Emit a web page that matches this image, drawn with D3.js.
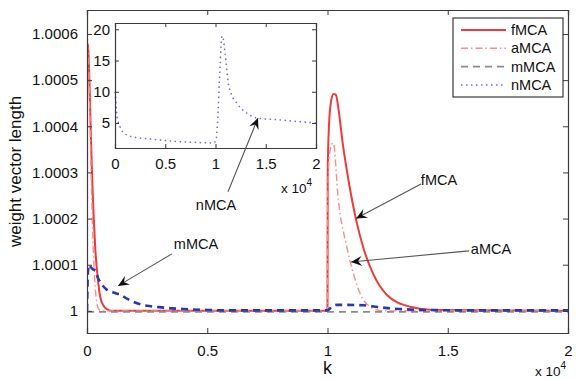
<!DOCTYPE html>
<html>
<head>
<meta charset="utf-8">
<script src="https://cdn.jsdelivr.net/npm/d3@7"></script>
<style>
  html, body { margin: 0; padding: 0; background: #fff; }
  svg { display: block; font-family: "Liberation Sans", Arial, Helvetica, sans-serif; }
</style>
</head>
<body>
<svg id="chart" width="576" height="379"></svg>
<script>
// ---------------- DATA ----------------
const xTicks = [0, 5000, 10000, 15000, 20000];
const xTickLabels = ["0", "0.5", "1", "1.5", "2"];
const yTicks = [1, 1.0001, 1.0002, 1.0003, 1.0004, 1.0005, 1.0006];
const yTickLabels = ["1", "1.0001", "1.0002", "1.0003", "1.0004", "1.0005", "1.0006"];
const insetYTicks = [5, 10, 15, 20];
const insetYTickLabels = ["5", "10", "15", "20"];
const seriesNames = ["fMCA", "aMCA", "mMCA", "nMCA"];

// fMCA (red solid)
const fMCA_k = [0, 40, 100, 160, 220, 280, 350, 450, 550, 700, 850, 1000, 10000, 10010, 10060, 10150, 10250, 10350, 10450, 10630, 10900, 11200, 11500, 11900, 12460, 13430, 14400, 20000];
const fMCA_v = [1.00058, 1.000575, 1.0005, 1.00038, 1.00028, 1.0002, 1.00013, 1.00007, 1.00003, 1.00001, 1.000003, 1, 1, 1.0003, 1.0004, 1.000455, 1.00047, 1.000468, 1.00044, 1.000364, 1.000275, 1.000195, 1.000135, 1.00008, 1.000035, 1.000009, 1.000002, 1];

// aMCA (light red dash-dot)
const aMCA_k = [0, 60, 120, 180, 250, 320, 400, 500, 600, 10000, 10010, 10080, 10240, 10450, 10800, 11070, 11350, 11770, 12300, 20000];
const aMCA_v = [1.00058, 1.00055, 1.00042, 1.00028, 1.00015, 1.00007, 1.00002, 1.000003, 1, 1, 1.00025, 1.00034, 1.000364, 1.000241, 1.000139, 1.000082, 1.000038, 1.000009, 1, 1];

// mMCA (grey dashed, legend style)
const mMCA_k = [0, 20000];
const mMCA_v = [1, 1];

// blue dashed curve in main axes (labelled mMCA by arrow)
const mMCAblue_k = [0, 40, 80, 150, 250, 350, 450, 550, 650, 800, 950, 1100, 1250, 1400, 1550, 1750, 2000, 2300, 2650, 3000, 3400, 4000, 5000, 6000, 8000, 10000, 10200, 10400, 10800, 11500, 12000, 12500, 13000, 14000, 16000, 20000];
const mMCAblue_v = [1, 1.000085, 1.0001, 1.000095, 1.00009, 1.000088, 1.000072, 1.000062, 1.000055, 1.000047, 1.000042, 1.00004, 1.000037, 1.000036, 1.00003, 1.000024, 1.000018, 1.000013, 1.00001, 1.000008, 1.000006, 1.000004, 1.000002, 1.000001, 1.000001, 1.000001, 1.00001, 1.000013, 1.000013, 1.000012, 1.000009, 1.000006, 1.000004, 1.000002, 1.000001, 1.000001];

// nMCA (blue dotted, inset)
const nMCA_k = [0, 60, 200, 500, 800, 1160, 2000, 3150, 5000, 6470, 8000, 9750, 10050, 10200, 10450, 10650, 10720, 10950, 11270, 11600, 12100, 13100, 14100, 16400, 18400, 20000];
const nMCA_v = [10, 9, 6, 4.4, 3.5, 3.1, 2.7, 2.5, 2.2, 2.0, 1.9, 1.8, 2.2, 5, 14.1, 18.9, 18.8, 16.2, 11.4, 9.5, 8.2, 6.6, 5.8, 5.5, 5.2, 5.0];

// Annotations (data coordinates): text position, arrow start, arrow tip
const annotations = [
  { text: "nMCA", tx: 5364, ty: 1.00023, sx: 5863, sy: 1.000258, tipInset: true, ex: 14229, ey: 5.8 },
  { text: "mMCA", tx: 4532, ty: 1.000145, sx: 3534, sy: 1.0001235, tipInset: false, ex: 1289, ey: 1.0000541 },
  { text: "fMCA", tx: 14636, ty: 1.000284, sx: 13888, sy: 1.000275, tipInset: false, ex: 11185, ey: 1.0002 },
  { text: "aMCA", tx: 16798, ty: 1.000134, sx: 15884, sy: 1.00013, tipInset: false, ex: 10977, ey: 1.000106 }
];

// ---------------- LAYOUT ----------------
const svg = d3.select("#chart");
const M = { left: 87, right: 568, top: 10, bottom: 333 };
const I = { left: 115, right: 316, top: 23, bottom: 148 };

const x = d3.scaleLinear().domain([0, 20000]).range([M.left, M.right]);
const y = d3.scaleLinear().domain([0.999952, 1.000652]).range([M.bottom, M.top]);
const xi = d3.scaleLinear().domain([0, 20000]).range([I.left, I.right]);
const yi = d3.scaleLinear().domain([1, 21]).range([I.bottom, I.top]);

const axisColor = "#3a3a3a";
const colF = "#f03a3a", colA = "#ff8a8a", colM = "#8c8c8c", colBlue = "#2e35b0", colN = "#6b6be0";

svg.append("defs").append("clipPath").attr("id", "mainClip")
  .append("rect").attr("x", M.left).attr("y", M.top).attr("width", M.right - M.left).attr("height", M.bottom - M.top);

svg.append("rect").attr("x", M.left).attr("y", M.top).attr("width", M.right - M.left).attr("height", M.bottom - M.top)
  .attr("fill", "#fff").attr("stroke", "none");

const zip = (ks, vs) => ks.map((k, i) => [k, vs[i]]);
const line = d3.line().x(d => x(d[0])).y(d => y(d[1])).curve(d3.curveMonotoneX);
const plot = svg.append("g").attr("clip-path", "url(#mainClip)");

plot.append("path").datum(zip(fMCA_k, fMCA_v)).attr("d", line)
  .attr("fill", "none").attr("stroke", colF).attr("stroke-width", 2);
plot.append("path").datum(zip(aMCA_k, aMCA_v)).attr("d", line)
  .attr("fill", "none").attr("stroke", colA).attr("stroke-width", 1.4).attr("stroke-dasharray", "7,3,1.5,3");
plot.append("path").datum(zip(mMCA_k, mMCA_v)).attr("d", line)
  .attr("fill", "none").attr("stroke", colM).attr("stroke-width", 1.6).attr("stroke-dasharray", "7,5")
  .attr("transform", "translate(0,1)");
plot.append("path").datum(zip(mMCAblue_k, mMCAblue_v)).attr("d", line)
  .attr("fill", "none").attr("stroke", colBlue).attr("stroke-width", 2.6).attr("stroke-dasharray", "7,5");

const xAxB = d3.axisBottom(x).tickValues(xTicks).tickSize(-5).tickPadding(12).tickFormat((d, i) => xTickLabels[i]);
const xAxT = d3.axisTop(x).tickValues(xTicks).tickSize(-5).tickFormat("");
const yAxL = d3.axisLeft(y).tickValues(yTicks).tickSize(-5).tickPadding(9).tickFormat((d, i) => yTickLabels[i]);
const yAxR = d3.axisRight(y).tickValues(yTicks).tickSize(-5).tickFormat("");

function styleAxis(g, fs) {
  g.select(".domain").attr("stroke", axisColor).attr("stroke-width", 1.2);
  g.selectAll(".tick line").attr("stroke", axisColor);
  g.selectAll(".tick text").attr("fill", "#111").style("font-size", fs + "px")
    .style("font-family", '"Liberation Sans", Arial, Helvetica, sans-serif');
}
styleAxis(svg.append("g").attr("transform", `translate(0,${M.bottom})`).call(xAxB), 15);
styleAxis(svg.append("g").attr("transform", `translate(0,${M.top})`).call(xAxT), 15);
styleAxis(svg.append("g").attr("transform", `translate(${M.left},0)`).call(yAxL), 15);
styleAxis(svg.append("g").attr("transform", `translate(${M.right},0)`).call(yAxR), 15);

svg.append("text").attr("x", x(10000)).attr("y", 374).attr("text-anchor", "middle")
  .style("font-size", "18px").attr("fill", "#111").text("k");
svg.append("text").attr("transform", `translate(21,${(M.top + M.bottom) / 2}) rotate(-90)`)
  .attr("text-anchor", "middle").style("font-size", "17px").attr("fill", "#111").text("weight vector length");
const mx = svg.append("text").attr("x", 535).attr("y", 376).style("font-size", "13.5px").attr("fill", "#111");
mx.append("tspan").text("x 10");
mx.append("tspan").attr("dy", -7).style("font-size", "10px").text("4");

// ---------------- INSET ----------------
svg.append("rect").attr("x", I.left).attr("y", I.top).attr("width", I.right - I.left).attr("height", I.bottom - I.top)
  .attr("fill", "#fff").attr("stroke", "none");
const iline = d3.line().x(d => xi(d[0])).y(d => yi(d[1])).curve(d3.curveMonotoneX);
svg.append("path").datum(zip(nMCA_k, nMCA_v)).attr("d", iline)
  .attr("fill", "none").attr("stroke", colN).attr("stroke-width", 1.5).attr("stroke-dasharray", "1.5,3.5");

const ixB = d3.axisBottom(xi).tickValues(xTicks).tickSize(-4).tickPadding(10).tickFormat((d, i) => xTickLabels[i]);
const ixT = d3.axisTop(xi).tickValues(xTicks).tickSize(-4).tickFormat("");
const iyL = d3.axisLeft(yi).tickValues(insetYTicks).tickSize(-4).tickPadding(5).tickFormat((d, i) => insetYTickLabels[i]);
const iyR = d3.axisRight(yi).tickValues(insetYTicks).tickSize(-4).tickFormat("");
styleAxis(svg.append("g").attr("transform", `translate(0,${I.bottom})`).call(ixB), 15);
styleAxis(svg.append("g").attr("transform", `translate(0,${I.top})`).call(ixT), 15);
styleAxis(svg.append("g").attr("transform", `translate(${I.left},0)`).call(iyL), 15);
styleAxis(svg.append("g").attr("transform", `translate(${I.right},0)`).call(iyR), 15);
const ix = svg.append("text").attr("x", 281).attr("y", 193).style("font-size", "13.5px").attr("fill", "#111");
ix.append("tspan").text("x 10");
ix.append("tspan").attr("dy", -7).style("font-size", "10px").text("4");

// ---------------- LEGEND ----------------
const leg = svg.append("g");
leg.append("rect").attr("x", 453).attr("y", 18).attr("width", 110).attr("height", 79)
  .attr("fill", "#fff").attr("stroke", axisColor).attr("stroke-width", 1.2);
const legStyles = [
  { c: colF, w: 2, dash: null },
  { c: colA, w: 1.4, dash: "7,3,1.5,3" },
  { c: colM, w: 1.6, dash: "7,5" },
  { c: colN, w: 1.5, dash: "1.5,3.5" }
];
seriesNames.forEach((name, i) => {
  const yy = 30 + i * 18.3;
  const s = legStyles[i];
  const l = leg.append("line").attr("x1", 461).attr("x2", 506).attr("y1", yy).attr("y2", yy)
    .attr("stroke", s.c).attr("stroke-width", s.w);
  if (s.dash) l.attr("stroke-dasharray", s.dash);
  leg.append("text").attr("x", 511).attr("y", yy + 5).style("font-size", "14.5px").attr("fill", "#111").text(name);
});

// ---------------- ANNOTATIONS ----------------
function arrowHead(g, x0, y0, x1, y1) {
  const ang = Math.atan2(y1 - y0, x1 - x0);
  const L = 11, W = 5, notch = 7;
  const ux = Math.cos(ang), uy = Math.sin(ang);
  const px = -uy, py = ux;
  const p = [
    [x1, y1],
    [x1 - ux * L + px * W, y1 - uy * L + py * W],
    [x1 - ux * notch, y1 - uy * notch],
    [x1 - ux * L - px * W, y1 - uy * L - py * W]
  ];
  g.append("path").attr("d", "M" + p.map(q => q.join(",")).join("L") + "Z").attr("fill", "#111");
}
const ann = svg.append("g");
annotations.forEach(a => {
  const sx = x(a.sx), sy = y(a.sy);
  const ex = a.tipInset ? xi(a.ex) : x(a.ex);
  const ey = a.tipInset ? yi(a.ey) : y(a.ey);
  ann.append("line").attr("x1", sx).attr("y1", sy).attr("x2", ex).attr("y2", ey)
    .attr("stroke", "#555").attr("stroke-width", 1.1);
  arrowHead(ann, sx, sy, ex, ey);
  ann.append("text").attr("x", x(a.tx)).attr("y", y(a.ty) + 5).attr("text-anchor", "middle")
    .style("font-size", "14.5px").attr("fill", "#111").text(a.text);
});
</script>
</body>
</html>
